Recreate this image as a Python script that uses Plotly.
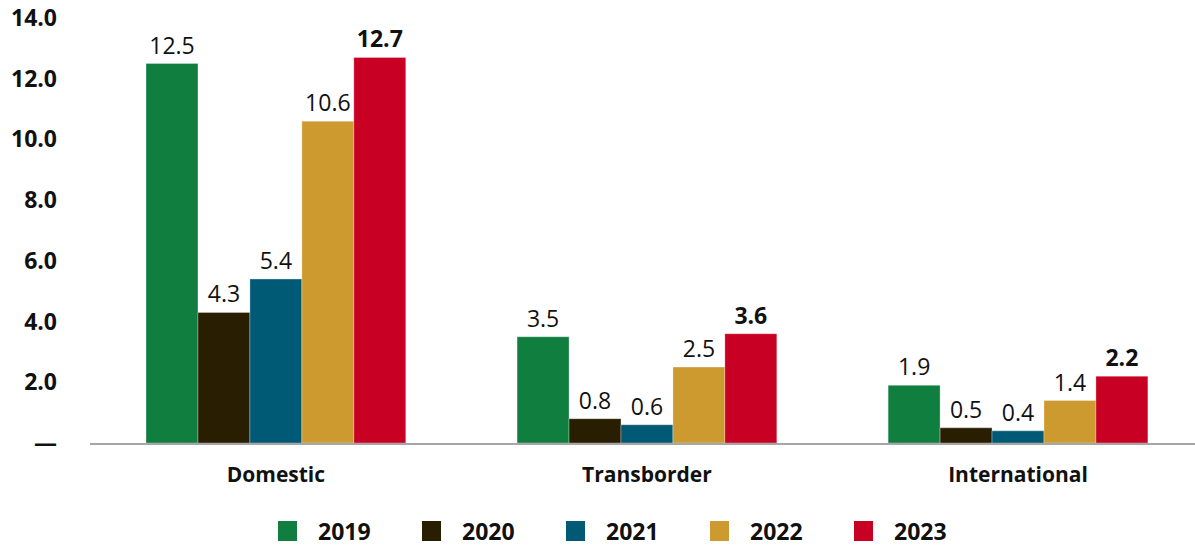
import plotly.graph_objects as go

categories = ["Domestic", "Transborder", "International"]
years = ["2019", "2020", "2021", "2022", "2023"]
values = {
    "2019": [12.5, 3.5, 1.9],
    "2020": [4.3, 0.8, 0.5],
    "2021": [5.4, 0.6, 0.4],
    "2022": [10.6, 2.5, 1.4],
    "2023": [12.7, 3.6, 2.2],
}
colors = {
    "2019": "#0F7E3F",
    "2020": "#2A1E02",
    "2021": "#005A75",
    "2022": "#CC9A2E",
    "2023": "#C80023",
}
tick_vals = [0, 2, 4, 6, 8, 10, 12, 14]
tick_text = ["—", "2.0", "4.0", "6.0", "8.0", "10.0", "12.0", "14.0"]

FONT = "Open Sans"
W, H = 1195, 548
ML, MR, MT, MB = 90, 0, 18, 105
PW, PH = W - ML - MR, H - MT - MB

fig = go.Figure()
for y in years:
    bold = y == years[-1]
    fig.add_trace(go.Bar(
        name=y, x=categories, y=values[y],
        marker=dict(color=colors[y], line=dict(color="rgba(255,255,255,0.6)", width=0.5)),
        text=[f"{v:.1f}" for v in values[y]],
        texttemplate="<b>%{text}</b>" if bold else "%{text}",
        textposition="outside", cliponaxis=False,
        textfont=dict(family=FONT, size=23, color="#111111"),
        showlegend=False,
    ))

# manual legend (larger squares than plotly's built-in legend)
shapes, annotations = [], []
sq_px, start_px, step_px = 19, 278, 144
sq_top, sq_bot = 521, 541
for i, y in enumerate(years):
    x0 = start_px + i * step_px
    shapes.append(dict(
        type="rect", xref="paper", yref="paper",
        x0=(x0 - ML) / PW, x1=(x0 + sq_px - ML) / PW,
        y0=(H - MB - sq_bot) / PH, y1=(H - MB - sq_top) / PH,
        fillcolor=colors[y], line=dict(width=0),
    ))
    annotations.append(dict(
        xref="paper", yref="paper",
        x=(x0 + sq_px + 19 - ML) / PW, y=(H - MB - 531) / PH,
        text=f"<b>{y}</b>", showarrow=False, xanchor="left", yanchor="middle",
        font=dict(family=FONT, size=23, color="#111111"),
    ))

fig.update_layout(
    width=W, height=H,
    margin=dict(l=ML, r=MR, t=MT, b=MB),
    barmode="group", bargap=0.30, bargroupgap=0,
    plot_bgcolor="white", paper_bgcolor="white",
    font=dict(family=FONT, color="#111111"),
    shapes=shapes, annotations=annotations,
    xaxis=dict(
        range=[-0.501, 2.477], showgrid=False, showline=True,
        linecolor="#A6A6A6", linewidth=2, ticks="",
        tickfont=dict(family=FONT, size=21, color="#111111"),
        ticklabelstandoff=12,
        tickvals=categories, ticktext=[f"<b>{c}</b>" for c in categories],
    ),
    yaxis=dict(
        range=[0, 14], showgrid=False, zeroline=False, showline=False,
        tickvals=tick_vals, ticktext=[f"<b>{t}</b>" for t in tick_text],
        tickfont=dict(family=FONT, size=23, color="#111111"),
        ticklabelstandoff=32,
    ),
)

fig.write_html("out.html")
